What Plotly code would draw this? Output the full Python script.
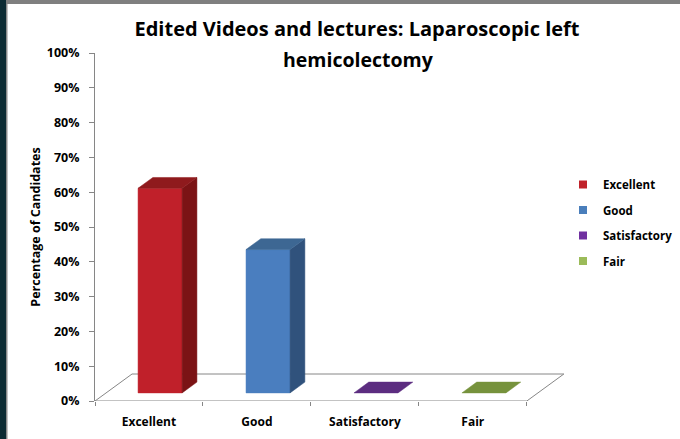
import plotly.graph_objects as go

# ---- data ----
categories = ["Excellent", "Good", "Satisfactory", "Fair"]
values = [58.8, 41.2, 0.0, 0.0]
y_tick_vals = [0, 10, 20, 30, 40, 50, 60, 70, 80, 90, 100]
y_tick_text = ["0%", "10%", "20%", "30%", "40%", "50%", "60%", "70%", "80%", "90%", "100%"]

front_colors = ["#c0202a", "#4a7ebf", "#5c2d80", "#76923c"]
side_colors = ["#7b1315", "#30527c", "#3e1e58", "#52662a"]
top_colors = ["#8f1a1d", "#3d6793", "#5c2d80", "#76923c"]
legend_colors = ["#c0222a", "#4a7ebb", "#7030a0", "#9bbb59"]

# ---- 3D geometry (in axis units) ----
DX, DY = 0.343, 7.76      # full depth vector of the floor
F, B = 0.3, 0.7           # front/back depth fraction of bars
W = 0.204                 # half width of a bar
FONT = "Open Sans"
GRAY = "#868686"

fig = go.Figure()

# floor outline
n = len(categories)
x0, x1 = -0.5, n - 0.5
fig.add_trace(go.Scatter(
    x=[x0 + DX, x0, x1, x1 + DX, x0 + DX],
    y=[DY, 0, 0, DY, DY],
    mode="lines", line=dict(color=GRAY, width=1),
    hoverinfo="skip", showlegend=False))

for i, (cat, v) in enumerate(zip(categories, values)):
    xl = i - W + F * DX
    xr = i + W + F * DX
    yb = F * DY
    ddx = (B - F) * DX
    ddy = (B - F) * DY
    faces = []
    if v > 0:
        faces.append(([xl, xr, xr, xl, xl], [yb, yb, yb + v, yb + v, yb], front_colors[i]))
        faces.append(([xr, xr + ddx, xr + ddx, xr, xr],
                      [yb, yb + ddy, yb + ddy + v, yb + v, yb], side_colors[i]))
    faces.append(([xl, xr, xr + ddx, xl + ddx, xl],
                  [yb + v, yb + v, yb + v + ddy, yb + v + ddy, yb + v], top_colors[i]))
    for fx, fy, col in faces:
        fig.add_trace(go.Scatter(
            x=fx, y=fy, fill="toself", fillcolor=col, mode="lines",
            line=dict(color=col, width=0.5), hoverinfo="skip", showlegend=False))

# legend entries
for i, cat in enumerate(categories):
    fig.add_trace(go.Scatter(
        x=[None], y=[None], mode="markers", name=cat,
        marker=dict(symbol="square", size=8, color=legend_colors[i]),
        legendgroup=cat))

fig.update_layout(
    width=680, height=439,
    margin=dict(l=95, r=110, t=53, b=38, autoexpand=False),
    paper_bgcolor="white", plot_bgcolor="white",
    font=dict(family=FONT, color="#000000"),
    title=dict(text="<b>Edited Videos and lectures: Laparoscopic left</b>",
               x=357 / 680, xref="container", xanchor="center",
               y=1 - 29 / 439, yref="container", yanchor="middle",
               automargin=False,
               font=dict(size=20, family=FONT, color="#000000")),
    showlegend=True,
    legend=dict(x=(563 - 95) / 475, xanchor="left",
                y=1 - (170 - 53) / 348, yanchor="top",
                font=dict(size=11.5, family=FONT, color="#000000", weight="bold"),
                tracegroupgap=6.5, bgcolor="rgba(0,0,0,0)"),
    xaxis=dict(range=[-0.5, 3.9], showline=False, showgrid=False, zeroline=False,
               automargin=False,
               tickvals=list(range(n)), ticktext=categories, ticks="",
               ticklabelstandoff=12,
               tickfont=dict(size=12, family=FONT, color="#000000", weight="bold"),
               minor=dict(tickvals=[k - 0.5 for k in range(n + 1)], ticks="outside",
                          ticklen=4, tickcolor=GRAY, tickwidth=1, showgrid=False),
               fixedrange=True),
    yaxis=dict(range=[0, 100], showline=True, linecolor=GRAY, linewidth=1,
               showgrid=False, zeroline=False, automargin=False,
               tickvals=y_tick_vals, ticktext=y_tick_text,
               ticks="outside", ticklen=5, tickcolor=GRAY,
               ticklabelstandoff=7,
               tickfont=dict(size=12.5, family=FONT, color="#000000", weight="bold"),
               title=dict(text="Percentage of Candidates", standoff=3,
                          font=dict(size=12.5, family=FONT, color="#000000", weight="bold")),
               fixedrange=True),
    annotations=[dict(text="<b>hemicolectomy</b>", xref="paper", yref="paper",
                      x=(358 - 95) / 475, y=1 + (53 - 60) / 348,
                      xanchor="center", yanchor="middle", showarrow=False,
                      font=dict(size=19.5, family=FONT, color="#000000"))],
    shapes=[
        dict(type="rect", xref="paper", yref="paper",
             x0=(0 - 95) / 475, x1=(6 - 95) / 475, y0=-38 / 348, y1=1 + 53 / 348,
             fillcolor="#0c2b33", line=dict(width=0), layer="above"),
        dict(type="rect", xref="paper", yref="paper",
             x0=(6 - 95) / 475, x1=(7.5 - 95) / 475, y0=-38 / 348, y1=1 + 50 / 348,
             fillcolor="#8a8a8a", line=dict(width=0), layer="above"),
        dict(type="rect", xref="paper", yref="paper",
             x0=(6 - 95) / 475, x1=(680 - 95) / 475, y0=1 + 49 / 348, y1=1 + 53 / 348,
             fillcolor="#7f7f7f", line=dict(width=0), layer="above"),
    ],
)

fig.write_html(
    "out.html",
    config={"displayModeBar": False},
    post_script="document.body.style.margin='0';document.body.style.overflow='hidden';",
)
